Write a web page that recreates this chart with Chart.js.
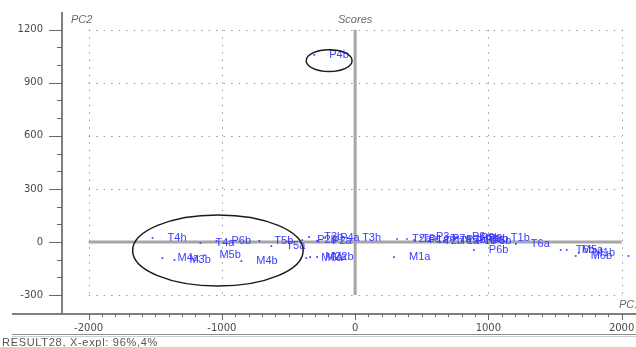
<!DOCTYPE html>
<html>
<head>
<meta charset="utf-8">
<script src="https://cdn.jsdelivr.net/npm/chart.js@4/dist/chart.umd.min.js"></script>
<style>
    body { margin: 0; background: #fff; }
    #wrap { width: 636px; height: 347px; }
</style>
</head>
<body>
<div id="wrap"><canvas id="scoresChart" width="636" height="347"></canvas></div>
<script>
// sample names and their scores
const sampleNames = ['P4b', 'T4h', 'T4a', 'P6b', 'T5b', 'T5a', 'M4a', 'M3b', 'M5b', 'M4b',
    'M6a', 'M2a', 'M2b', 'P2b', 'T3b', 'P2a', 'P4a', 'T3h', 'T2a', 'T3a', 'M1a',
    'P1a', 'P3a', 'T2b', 'P7a', 'T1a', 'P7b', 'P8a', 'P1b', 'P3b', 'P5a', 'P8b', 'P5b',
    'P6b', 'T1b', 'T6a', 'T6b', 'M5a', 'M6b', 'M1b', 'M3a'];
const pc1Scores = [-307, -1520, -1161, -1041, -719, -629, -1446, -1356, -1131, -854,
    -367, -337, -285, -397, -345, -285, -225, -60, 315, 389, 292,
    442, 494, 554, 614, 674, 719, 764, 801, 831, 861, 891, 914,
    891, 1056, 1206, 1543, 1588, 1655, 1678, 2052];
const pc2Scores = [1058, 23, -6, 6, 6, -23, -91, -102, -74, -108,
    -91, -85, -85, 11, 28, 6, 23, 23, 17, 17, -85,
    11, 28, 6, 17, 6, 11, 28, 6, 23, 11, 17, 6,
    -45, 23, -11, -45, -45, -79, -62, -79];

const xTicks = [-2000, -1000, 0, 1000, 2000];
const yTicks = [-300, 0, 300, 600, 900, 1200];
const xMinorStep = 100;
const yMinorStep = 100;

// hand-drawn groups (centre x, centre y, radius x, radius y in score units)
const groupEllipses = [
    [-195, 1025, 172, 62],
    [-1030, -48, 640, 201]
];

const bluePts = 'rgb(60,60,255)';
const tickFont = {family: 'DejaVu Sans', size: 10};

const decorPlugin = {
    id: 'decor',
    beforeDatasetsDraw(chart) {
        const ctx = chart.ctx;
        const x = chart.scales.x, y = chart.scales.y;
        const gx0 = x.getPixelForValue(-2000), gx1 = x.getPixelForValue(2000);
        const gy0 = y.getPixelForValue(1200), gy1 = y.getPixelForValue(-300);
        ctx.save();
        // dotted grid
        ctx.strokeStyle = '#9a9a9a';
        ctx.lineWidth = 1;
        ctx.setLineDash([1.5, 6]);
        yTicks.forEach(v => {
            if (v === 0) return;
            const py = Math.round(y.getPixelForValue(v)) + 0.5;
            ctx.beginPath(); ctx.moveTo(gx0, py); ctx.lineTo(gx1, py); ctx.stroke();
        });
        xTicks.forEach(v => {
            if (v === 0) return;
            const px = Math.round(x.getPixelForValue(v)) + 0.5;
            ctx.beginPath(); ctx.moveTo(px, gy0); ctx.lineTo(px, gy1); ctx.stroke();
        });
        ctx.setLineDash([]);
        // zero lines
        ctx.strokeStyle = '#a6a6a6';
        ctx.lineWidth = 3;
        const zx = x.getPixelForValue(0), zy = y.getPixelForValue(0);
        ctx.beginPath(); ctx.moveTo(gx0, zy); ctx.lineTo(gx1, zy); ctx.stroke();
        ctx.beginPath(); ctx.moveTo(zx, gy0); ctx.lineTo(zx, gy1); ctx.stroke();
        ctx.restore();
    },
    afterDatasetsDraw(chart) {
        const ctx = chart.ctx;
        const x = chart.scales.x, y = chart.scales.y;
        const meta = chart.getDatasetMeta(0);
        ctx.save();
        // sample labels
        ctx.font = '11px "Liberation Sans", Arial, sans-serif';
        ctx.fillStyle = bluePts;
        ctx.textBaseline = 'middle';
        meta.data.forEach((pt, i) => {
            ctx.fillText(sampleNames[i], pt.x + 15, pt.y);
        });
        // ellipses
        ctx.strokeStyle = '#1a1a1a';
        ctx.lineWidth = 1.5;
        groupEllipses.forEach(e => {
            const cx = x.getPixelForValue(e[0]), cy = y.getPixelForValue(e[1]);
            const rx = x.getPixelForValue(e[0] + e[2]) - cx;
            const ry = cy - y.getPixelForValue(e[1] + e[3]);
            ctx.beginPath();
            ctx.ellipse(cx, cy, rx, ry, 0, 0, Math.PI * 2);
            ctx.stroke();
        });
        ctx.restore();
    },
    afterDraw(chart) {
        const ctx = chart.ctx;
        const x = chart.scales.x, y = chart.scales.y;
        const area = chart.chartArea;
        ctx.save();
        // axis lines
        ctx.strokeStyle = '#808080';
        ctx.lineWidth = 2;
        ctx.beginPath(); ctx.moveTo(area.left, area.top); ctx.lineTo(area.left, area.bottom); ctx.stroke();
        ctx.beginPath(); ctx.moveTo(12, area.bottom); ctx.lineTo(chart.width, area.bottom); ctx.stroke();
        // tick marks, major and minor
        ctx.lineWidth = 1;
        ctx.strokeStyle = '#666';
        for (let v = -300; v <= 1200; v += yMinorStep) {
            const py = Math.round(y.getPixelForValue(v)) + 0.5;
            const len = v % 300 === 0 ? 13 : 5;
            ctx.beginPath(); ctx.moveTo(area.left - len, py); ctx.lineTo(area.left, py); ctx.stroke();
        }
        for (let v = -2000; v <= 2000; v += xMinorStep) {
            const px = Math.round(x.getPixelForValue(v)) + 0.5;
            const len = v % 1000 === 0 ? 6 : 3;
            ctx.beginPath(); ctx.moveTo(px, area.bottom); ctx.lineTo(px, area.bottom + len); ctx.stroke();
        }
        // separator under the axis
        ctx.strokeStyle = '#8c8c8c';
        ctx.beginPath(); ctx.moveTo(12, 334.5); ctx.lineTo(chart.width, 334.5); ctx.stroke();
        ctx.strokeStyle = '#cfcfcf';
        ctx.beginPath(); ctx.moveTo(12, 336.5); ctx.lineTo(chart.width, 336.5); ctx.stroke();
        // titles
        ctx.fillStyle = '#6a6a6a';
        ctx.font = 'italic 11px "Liberation Sans", Arial, sans-serif';
        ctx.textBaseline = 'middle';
        ctx.textAlign = 'left';
        ctx.fillText('PC2', 71, 20);
        ctx.fillText('PC1', 619, 305);
        ctx.textAlign = 'center';
        ctx.fillText('Scores', x.getPixelForValue(0), 20);
        ctx.textAlign = 'left';
        ctx.fillStyle = '#555';
        ctx.font = '11px "Liberation Sans", Arial, sans-serif';
        ctx.letterSpacing = '0.7px';
        ctx.fillText('RESULT28, X-expl: 96%,4%', 2, 343);
        ctx.restore();
    }
};

function noEdgePadding(s) {
    s.paddingLeft = 0;
    s.paddingRight = 0;
    s.paddingTop = 0;
    s.paddingBottom = 0;
}

const ctx = document.getElementById('scoresChart').getContext('2d');
const scoresChart = new Chart(ctx, {
    type: 'scatter',
    data: {
        datasets: [{
            label: 'Scores',
            data: pc1Scores.map((v, i) => ({x: v, y: pc2Scores[i]})),
            backgroundColor: bluePts,
            borderColor: bluePts,
            pointStyle: 'rect',
            pointRadius: 1.2,
            borderWidth: 0
        }]
    },
    options: {
        responsive: false,
        animation: false,
        devicePixelRatio: 1,
        layout: {padding: {top: 12, left: 0, right: 0, bottom: 0}},
        plugins: {
            legend: {display: false},
            tooltip: {enabled: false}
        },
        scales: {
            x: {
                type: 'linear',
                min: -2200,
                max: 2078,
                grid: {display: false, drawTicks: false},
                border: {display: false},
                ticks: {
                    font: tickFont,
                    color: '#4a4a4a',
                    padding: 8,
                    maxRotation: 0,
                    autoSkip: false,
                    includeBounds: false,
                    callback: v => String(v)
                },
                afterBuildTicks: s => { s.ticks = xTicks.map(v => ({value: v})); },
                afterFit: s => { s.height = 33; noEdgePadding(s); }
            },
            y: {
                type: 'linear',
                min: -407,
                max: 1300,
                grid: {display: false, drawTicks: false},
                border: {display: false},
                ticks: {
                    font: tickFont,
                    color: '#4a4a4a',
                    padding: 19,
                    autoSkip: false,
                    includeBounds: false,
                    callback: v => String(v)
                },
                afterBuildTicks: s => { s.ticks = yTicks.map(v => ({value: v})); },
                afterFit: s => { s.width = 62; noEdgePadding(s); }
            }
        }
    },
    plugins: [decorPlugin]
});
</script>
</body>
</html>
